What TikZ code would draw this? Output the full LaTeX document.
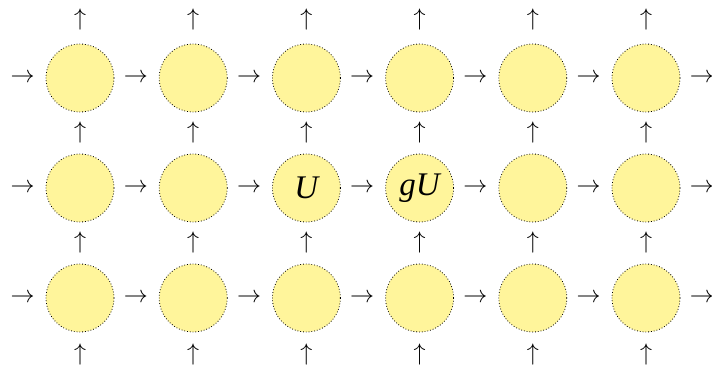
\documentclass[tikz,border=0pt]{standalone}
\usepackage{fontspec}
\setmainfont{Liberation Serif}
\usetikzlibrary{positioning}
\definecolor{cellyellow}{RGB}{255,245,155}

\begin{document}
\begin{tikzpicture}[x=1pt,y=1pt]
  \tikzset{
    cell/.style={
      circle,
      draw=black,
      densely dotted,
      fill=cellyellow,
      minimum size=34pt,
      inner sep=0pt,
      font=\fontsize{16.5}{18}\selectfont\itshape},
    harr/.style={
      inner sep=0pt,
      font=\fontsize{11.5}{12}\selectfont},
    varr/.style={
      inner sep=0pt,
      font=\fontsize{11.5}{12}\selectfont}}

  \useasboundingbox (0,0) rectangle (356,-186.5);

  % the grid of cells
  \foreach \c in {1,...,6}
    \node[cell] (c1\c) at ({40+56.6*(\c-1)},-39) {};
  \foreach \c/\t in {1/,2/,3/U,4/gU,5/,6/}
    \node[cell] (c2\c) at ({40+56.6*(\c-1)},-94) {\t};
  \foreach \c in {1,...,6}
    \node[cell] (c3\c) at ({40+56.6*(\c-1)},-149) {};

  % horizontal arrows
  \foreach \r/\y in {1/-39,2/-94,3/-149}
    \foreach \k in {0,...,6}
      \node[harr] (h\r\k) at ({11.3+56.6*\k},\y) {$\rightarrow$};

  % vertical arrows
  \foreach \r/\y in {0/-10,1/-66.5,2/-121.5,3/-177.5}
    \foreach \c in {1,...,6}
      \node[varr] (v\r\c) at ({40+56.6*(\c-1)},\y) {$\uparrow$};

\end{tikzpicture}
\end{document}
